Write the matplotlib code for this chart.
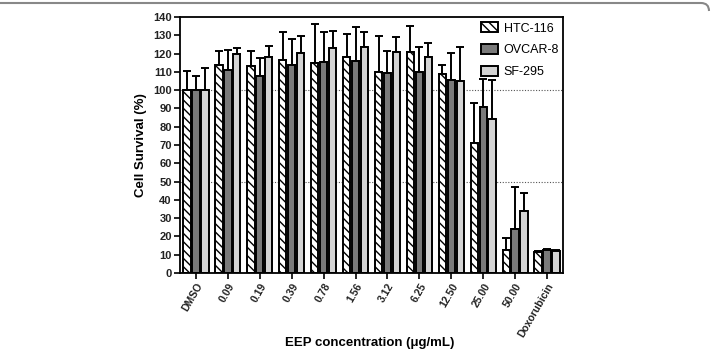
import matplotlib
matplotlib.use('Agg')
import matplotlib.pyplot as plt
import numpy as np
from matplotlib.path import Path
from matplotlib.patches import PathPatch

plt.rcParams['font.family'] = ['Liberation Sans', 'DejaVu Sans']
plt.rcParams['hatch.linewidth'] = 1.0

labels = ['DMSO', '0.09', '0.19', '0.39', '0.78', '1.56', '3.12', '6.25',
          '12.50', '25.00', '50.00', 'Doxorubicin']
series = ['HTC-116', 'OVCAR-8', 'SF-295']

htc_mean = [100, 113.7, 113.2, 116.5, 114.6, 118.3, 110.0, 120.6, 108.8, 70.9, 12.4, 11.5]
htc_top = [110.6, 121.4, 121.4, 131.6, 136.0, 130.9, 129.8, 135.0, 114.0, 92.8, 19.3, 12.0]
ovcar_mean = [100, 111.0, 107.7, 113.6, 115.5, 116.0, 109.3, 110.0, 105.5, 91.0, 23.9, 12.8]
ovcar_top = [107.5, 121.7, 117.4, 127.9, 131.8, 134.7, 121.5, 123.7, 120.5, 106.0, 47.2, 13.3]
sf_mean = [100, 119.6, 117.9, 120.4, 123.2, 123.6, 121.0, 118.0, 104.8, 84.2, 33.9, 12.2]
sf_top = [112.0, 122.8, 123.9, 129.4, 132.3, 132.0, 129.0, 126.0, 123.7, 105.4, 43.9, 12.6]

means = [htc_mean, ovcar_mean, sf_mean]
tops = [htc_top, ovcar_top, sf_top]
faces = ['white', '#7a7a7a', '#d4d4d4']
hatches = ['\\\\\\\\', None, None]

fig = plt.figure(figsize=(7.11, 3.49), dpi=100)
ax = fig.add_axes([180 / 711, 1 - 273 / 349, 383 / 711, 256 / 349])

x = np.arange(len(labels))
offsets = [-0.28, 0, 0.28]
width = 0.23

for yv in (50, 100):
    ax.axhline(yv, color='#555555', linestyle=(0, (1, 1.5)), linewidth=0.8, zorder=0)

for i in range(3):
    m = np.array(means[i])
    err = np.array(tops[i]) - m
    ax.bar(x + offsets[i], m, width, color=faces[i], edgecolor='black',
           hatch=hatches[i], linewidth=1.4, label=series[i], zorder=2)
    ax.errorbar(x + offsets[i], m, yerr=[np.zeros_like(err), err], fmt='none',
                ecolor='black', elinewidth=1.4, capsize=2.8, capthick=1.4, zorder=1)

ax.set_xlim(-0.5, len(labels) - 0.5)
ax.set_ylim(0, 140)
ax.set_yticks(np.arange(0, 141, 10))
ax.set_xticks(x)
ax.set_xticklabels(labels, rotation=60, ha='right', rotation_mode='anchor',
                   fontsize=7.5, fontweight='bold', color='#222222')
for t in ax.get_yticklabels():
    t.set_fontsize(8)
    t.set_fontweight('bold')
    t.set_color('#222222')
ax.tick_params(direction='out', length=4, width=1.2, pad=2)
for s in ax.spines.values():
    s.set_linewidth(1.3)

ax.set_ylabel('Cell Survival (%)', fontsize=9.5, fontweight='bold', labelpad=4)
fig.text(370 / 711, 1 - 343 / 349, 'EEP concentration (\u03bcg/mL)', ha='center',
         va='center', fontsize=9.5, fontweight='bold')

ax.legend(loc='upper left', frameon=False, fontsize=9, handlelength=1.4,
          handleheight=0.9, labelspacing=0.75, bbox_to_anchor=(0.775, 0.995),
          borderaxespad=0, borderpad=0.3, handletextpad=0.45)

# top border of the panel with rounded corner at right
W, H = 711, 349
verts = [(0, H - 3), (W - 10, H - 3), (W - 2, H - 3), (W - 2, H - 11)]
codes = [Path.MOVETO, Path.LINETO, Path.CURVE3, Path.CURVE3]
pp = PathPatch(Path([(vx / W, vy / H) for vx, vy in verts], codes),
               transform=fig.transFigure, fill=False, edgecolor='#888888', linewidth=1.5)
fig.patches.append(pp)

fig.savefig('out.png', dpi=100)
